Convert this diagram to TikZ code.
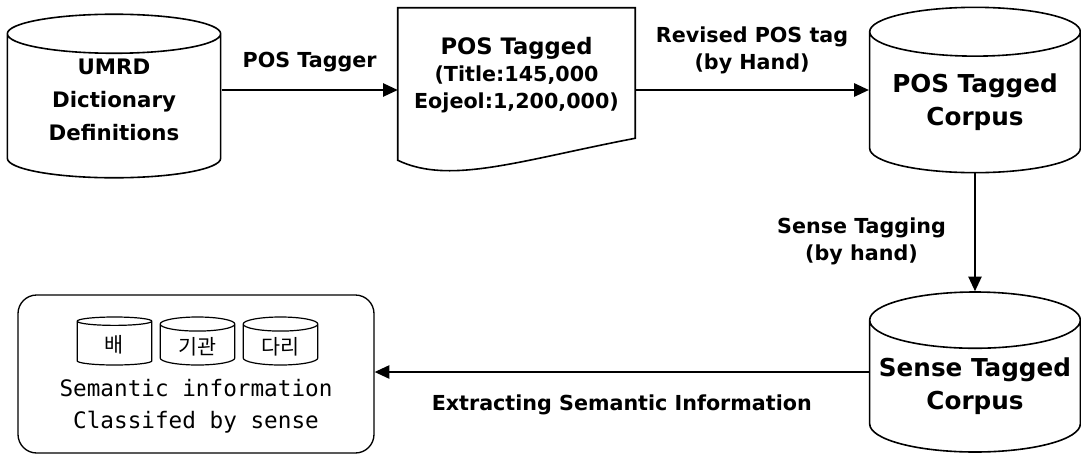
\documentclass[tikz,border=0pt]{standalone}
\usepackage{fontspec}
\setmainfont{DejaVu Sans}
\newfontfamily\monofont{DejaVu Sans Mono}
\newfontfamily\kofont{Noto Sans CJK KR}
\usetikzlibrary{arrows.meta,shapes.geometric,calc}
\tikzstyle{store}=[cylinder, shape border rotate=90, aspect=0.28, draw, line width=1.2pt, align=center, anchor=shape center, text depth=10pt, font=\bfseries\fontsize{18.5}{25}\selectfont]
\tikzstyle{smallstore}=[cylinder, shape border rotate=90, aspect=0.3, draw, line width=0.9pt, minimum width=56pt, minimum height=36pt, anchor=shape center, font=\kofont\fontsize{15.5}{16}\selectfont]
\tikzstyle{edge} = [draw, line width=1.1pt, -{Triangle[length=11pt,width=10pt]}]
\tikzstyle{weight} = [font=\bfseries\fontsize{15.5}{20.5}\selectfont]

\begin{document}
\begin{tikzpicture}[x=0.75pt, y=-0.75pt]
    \useasboundingbox (0,0) rectangle (1081,454);
    % First the three stores
    \node[store, minimum width=160pt, minimum height=121pt, text depth=14pt, font=\bfseries\fontsize{16}{25}\selectfont] (umrd) at (114,96) {UMRD\\Dictionary\\Definitions};
    \node[store, minimum width=158pt, minimum height=124pt] (pos) at (975,90) {POS Tagged\\Corpus};
    \node[store, minimum width=158pt, minimum height=120pt] (sense) at (975,372) {Sense Tagged\\Corpus};
    % The tagged document with its wavy bottom
    \node[minimum width=177.75pt, minimum height=100.5pt, inner sep=0pt, align=center, font=\bfseries\fontsize{15.5}{20.5}\selectfont] (doc) at (516.5,75)
        {{\fontsize{17}{22.5}\selectfont POS Tagged}\\(Title:145,000\\Eojeol:1,200,000)};
    \draw[line width=1.2pt] (doc.north west) -- (doc.north east) -- ($(doc.south east)+(0,-4)$)
        .. controls ($(doc.south east)+(-115,18)$) and ($(doc.south west)+(52,43)$) .. ($(doc.south west)+(0,18)$) -- cycle;
    % The semantic information box
    \node[draw, rounded corners=14pt, line width=1pt, minimum width=267pt, minimum height=118.5pt] (sem) at (196,374) {};
    \foreach \x/\name/\word in {114.5/bae/배, 197.5/gigwan/기관, 280.5/dari/다리}
        \node[smallstore] (\name) at (\x,341) {\word};
    \node[font=\monofont\fontsize{17}{24}\selectfont, align=center] (seminfo) at (196,406) {Semantic information\\Classifed by sense};
    % Connect with edges and draw labels
    \path[edge] (umrd.east |- pos.shape center) -- node[weight, above=10pt] {POS Tagger} (doc.west |- pos.shape center);
    \path[edge] (doc.east |- pos.shape center) -- node[weight, above=8pt, align=center] {Revised POS tag\\(by Hand)} (pos.west |- pos.shape center);
    \path[edge] (pos) -- node[weight, left=18pt, yshift=-7pt, align=center] {Sense Tagging\\(by hand)} (sense);
    \path[edge] (sense.west |- sense.shape center) -- node[weight, below=13pt] {Extracting Semantic Information} (sem.east |- sense.shape center);
\end{tikzpicture}
\end{document}
